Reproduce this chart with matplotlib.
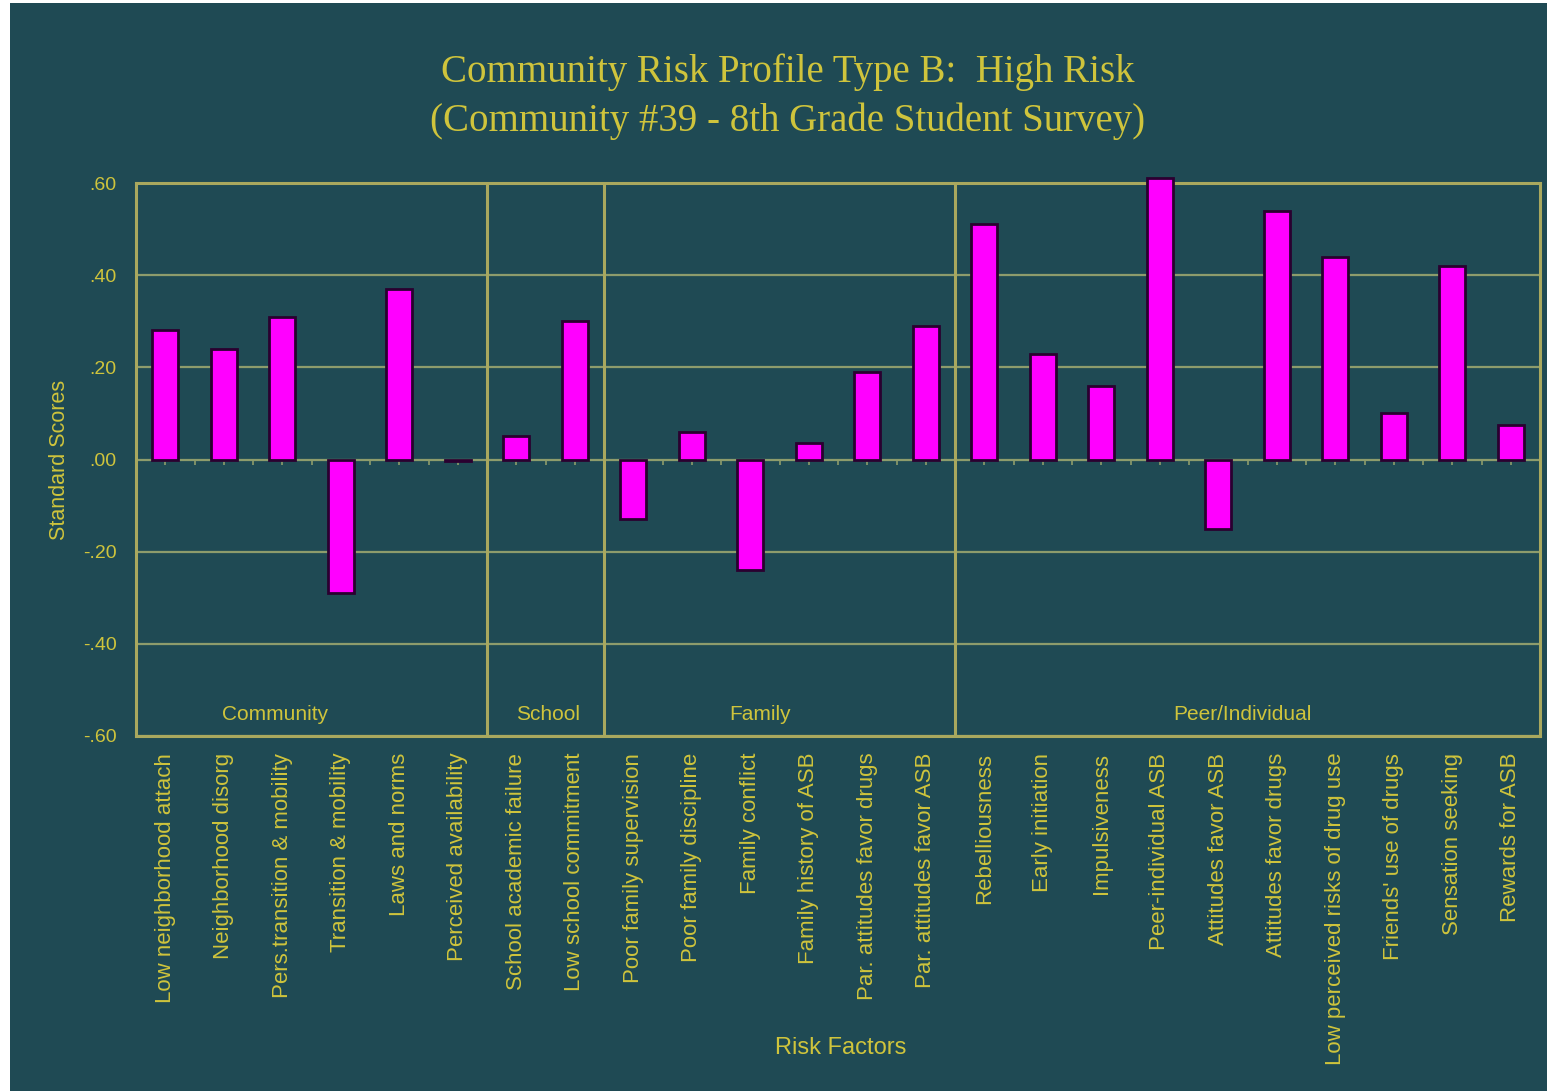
import matplotlib
matplotlib.use("Agg")
import matplotlib.pyplot as plt
import numpy as np
from matplotlib.patches import Rectangle

categories = [
    "Low neighborhood attach", "Neighborhood disorg", "Pers.transition & mobility",
    "Transition & mobility", "Laws and norms", "Perceived availability",
    "School academic failure", "Low school commitment",
    "Poor family supervision", "Poor family discipline", "Family conflict",
    "Family history of ASB", "Par. attitudes favor drugs", "Par. attitudes favor ASB",
    "Rebelliousness", "Early initiation", "Impulsiveness", "Peer-individual ASB",
    "Attitudes favor ASB", "Attitudes favor drugs", "Low perceived risks of drug use",
    "Friends' use of drugs", "Sensation seeking", "Rewards for ASB",
]
scores = [0.28, 0.24, 0.31, -0.29, 0.37, -0.003,
          0.05, 0.30,
          -0.13, 0.06, -0.24, 0.035, 0.19, 0.29,
          0.51, 0.23, 0.16, 0.61, -0.15, 0.54, 0.44, 0.10, 0.42, 0.075]
groups = ["Community", "School", "Family", "Peer/Individual"]
group_sizes = [6, 2, 6, 10]
group_label_x = [1.88, 6.54, 10.17, 18.41]
yticks = [0.60, 0.40, 0.20, 0.00, -0.20, -0.40, -0.60]
ytick_labels = [".60", ".40", ".20", ".00", "-.20", "-.40", "-.60"]

BG = "#1f4a54"
TXT = "#cfc43c"
FRAME = "#a9a85e"
GRID = "#8d9c6c"

fig = plt.figure(figsize=(15.47, 10.91), dpi=100, facecolor=BG)
# white strips at left and top edges
fig.patches.append(Rectangle((0, 0), 10 / 1547, 1, transform=fig.transFigure,
                             facecolor="white", edgecolor="none", zorder=-10))
fig.patches.append(Rectangle((0, 1 - 3 / 1091), 1, 3 / 1091, transform=fig.transFigure,
                             facecolor="white", edgecolor="none", zorder=-10))

ax = fig.add_axes([136 / 1547, 1 - 736 / 1091, (1540 - 136) / 1547, (736 - 183) / 1091])
ax.set_facecolor(BG)

x = np.arange(len(categories))
ax.bar(x, scores, width=0.45, color="#ff00ff", edgecolor="#2a0030",
       linewidth=2.0, zorder=3, clip_on=False)

ax.set_xlim(-0.5, len(categories) - 0.5)
ax.set_ylim(-0.6, 0.6)
ax.set_yticks(yticks)
ax.set_yticklabels(ytick_labels)
ax.yaxis.grid(True, color=GRID, linewidth=1.6, zorder=1)
ax.set_axisbelow(True)
ax.tick_params(axis="y", length=0, pad=14, labelcolor=TXT, labelsize=14)
ax.set_xticks(x)
ax.set_xticklabels(categories, rotation=90, fontsize=16, color=TXT,
                   fontfamily="Liberation Sans")
ax.tick_params(axis="x", length=0, pad=12)
for lab in ax.get_yticklabels():
    lab.set_fontfamily("Liberation Sans")
for s in ax.spines.values():
    s.set_color(FRAME)
    s.set_linewidth(2.2)

# tick marks along zero line (pointing downward)
sec = ax.secondary_xaxis(0.5)
sec.spines["bottom"].set_visible(False)
sec.spines["top"].set_visible(False)
sec.set_xticks(np.arange(-0.5, len(categories), 0.5))
sec.set_xticklabels([])
sec.tick_params(axis="x", direction="in", length=4, width=1.2, color=GRID)

# group dividers and labels
bounds = np.cumsum([0] + group_sizes) - 0.5
for b in bounds[1:-1]:
    ax.axvline(b, color=FRAME, linewidth=2.2, zorder=2)
for g, gx in zip(groups, group_label_x):
    ax.text(gx, -0.553, g, ha="center", va="center", color=TXT,
            fontsize=15, fontfamily="Liberation Sans")

ax.set_ylabel("Standard Scores", color=TXT, fontsize=15.5,
              fontfamily="Liberation Sans", labelpad=9)
fig.text(841 / 1547, 1 - 1048 / 1091, "Risk Factors", ha="center", va="center",
         color=TXT, fontsize=17, fontfamily="Liberation Sans")

fig.text(788 / 1547, 1 - 72 / 1091, "Community Risk Profile Type B:  High Risk",
         ha="center", va="center", color=TXT, fontsize=28,
         fontfamily="Liberation Serif")
fig.text(788 / 1547, 1 - 121 / 1091, "(Community #39 - 8th Grade Student Survey)",
         ha="center", va="center", color=TXT, fontsize=28,
         fontfamily="Liberation Serif")

fig.savefig("out.png", dpi=100, facecolor=fig.get_facecolor())
